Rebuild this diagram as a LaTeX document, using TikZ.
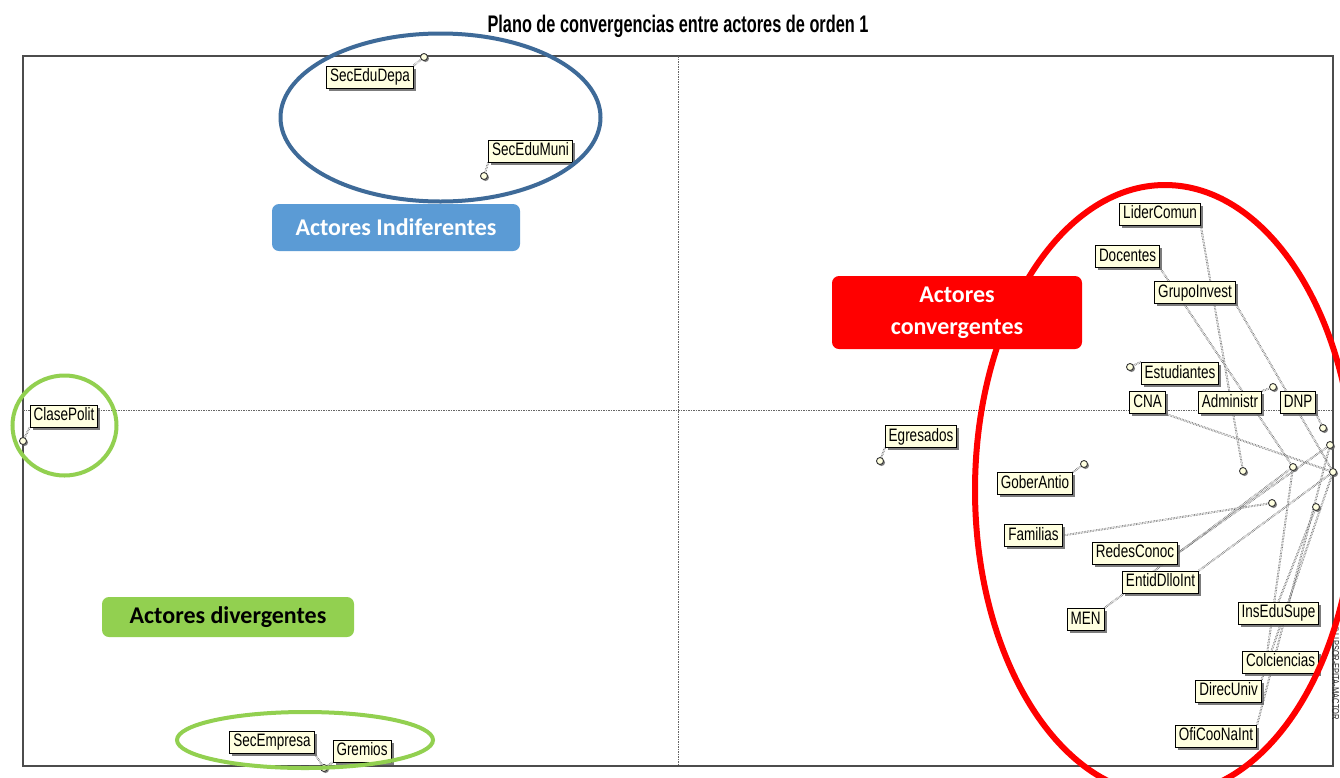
\documentclass[tikz,border=0pt]{standalone}
\usepackage{fontspec}
\setmainfont{Liberation Sans}
\newfontfamily\lblfont[FakeStretch=0.75]{Liberation Sans}
\newfontfamily\ttlfont[FakeStretch=0.68]{Liberation Sans}
\newfontfamily\calfont{Carlito}
\usetikzlibrary{shadows}
\pgfdeclarelayer{bg}
\pgfsetlayers{bg,main}
\definecolor{lblcol}{HTML}{FFFFE0}
\definecolor{bluering}{HTML}{3E6A98}
\definecolor{bluebox}{HTML}{5B9BD5}
\definecolor{greenc}{HTML}{92D050}
\definecolor{redc}{HTML}{FF0000}
\tikzset{
  lbl/.style={draw=black, line width=0.9pt, fill=lblcol,
    font=\lblfont\fontsize{18}{20}\selectfont, inner xsep=3.5pt, inner ysep=1pt,
    minimum height=22pt, text height=13pt, text depth=3.5pt,
    drop shadow={shadow xshift=2.5pt, shadow yshift=-2.5pt, fill=black!60, opacity=0.85}},
  pt/.style={circle, draw=black!80, fill=lblcol, line width=0.9pt, minimum size=7pt,
    inner sep=0pt, drop shadow={shadow xshift=1.5pt, shadow yshift=-1.5pt, fill=black!60, opacity=0.85}},
  conn/.style={draw=black!75, line width=0.55pt, double=white, double distance=0.8pt, densely dotted},
  axisln/.style={draw=black!60, line width=0.6pt, dash pattern=on 1.5pt off 1pt},
  callout/.style={rounded corners=7pt, font=\calfont\bfseries\fontsize{24}{32}\selectfont,
    align=center, inner sep=0pt},
  ring/.style={line width=4pt}
}
\begin{document}
\begin{tikzpicture}[x=1pt,y=-1pt]
\useasboundingbox (0,0) rectangle (1340,777);

% frame and axes
\begin{pgfonlayer}{bg}
\fill[white] (0,0) rectangle (1340,777);
\draw[black!70, line width=1.3pt] (23,56) rectangle (1333,766);
\draw[axisln] (678,56) -- (678,766);
\draw[axisln] (23,410) -- (1333,410);
\end{pgfonlayer}

% title
\node[font=\ttlfont\bfseries\fontsize{24}{26}\selectfont] (title) at (678,26) {Plano de convergencias entre actores de orden 1};

% points
\node[pt] (dA) at (424,57) {};
\node[pt] (dB) at (484,176) {};
\node[pt] (dC) at (23,441) {};
\node[pt] (dD) at (324,768) {};
\node[pt] (dE) at (880,461) {};
\node[pt] (dF) at (1084,464) {};
\node[pt] (dG) at (1130,367) {};
\node[pt] (dH) at (1273,387) {};
\node[pt] (dI) at (1323,428) {};
\node[pt] (dJ) at (1330,445) {};
\node[pt] (dK) at (1293,467) {};
\node[pt] (dL) at (1243,471) {};
\node[pt] (dM) at (1333,472) {};
\node[pt] (dN) at (1272,503) {};
\node[pt] (dO) at (1316,507) {};

% labels
\node[lbl] (SecEduDepa) at (370,77) {SecEduDepa};
\node[lbl] (SecEduMuni) at (530.5,151) {SecEduMuni};
\node[lbl] (ClasePolit) at (64,416) {ClasePolit};
\node[lbl] (SecEmpresa) at (272,742) {SecEmpresa};
\node[lbl] (Gremios) at (362,751) {Gremios};
\node[lbl] (Egresados) at (921,436.5) {Egresados};
\node[lbl] (GoberAntio) at (1035,483.5) {GoberAntio};
\node[lbl] (Familias) at (1033.5,535.5) {Familias};
\node[lbl] (LiderComun) at (1160,214) {LiderComun};
\node[lbl] (Docentes) at (1127.5,256.5) {Docentes};
\node[lbl] (GrupoInvest) at (1195,292.5) {GrupoInvest};
\node[lbl] (Estudiantes) at (1180,373.5) {Estudiantes};
\node[lbl] (CNA) at (1147.5,402.5) {CNA};
\node[lbl] (Administr) at (1230,402.5) {Administr};
\node[lbl] (DNP) at (1298,402.5) {DNP};
\node[lbl] (RedesConoc) at (1135,553) {RedesConoc};
\node[lbl] (EntidDlloInt) at (1160.5,582) {EntidDlloInt};
\node[lbl] (MEN) at (1085.5,619.5) {MEN};
\node[lbl] (InsEduSupe) at (1278.5,613) {InsEduSupe};
\node[lbl] (Colciencias) at (1280.5,662) {Colciencias};
\node[lbl] (DirecUniv) at (1228.5,691) {DirecUniv};
\node[lbl] (OfiCooNaInt) at (1216,736) {OfiCooNaInt};

% connectors
\begin{pgfonlayer}{bg}
\draw[conn] (SecEduDepa.north east) -- (dA);
\draw[conn] (SecEduMuni.south west) -- (dB);
\draw[conn] (ClasePolit.south west) -- (dC);
\draw[conn] (SecEmpresa.south east) -- (dD);
\draw[conn] (Gremios.south west) -- (dD);
\draw[conn] (Egresados.south west) -- (dE);
\draw[conn] (GoberAntio.north east) -- (dF);
\draw[conn] (Estudiantes.north west) -- (dG);
\draw[conn] (Administr.north east) -- (dH);
\draw[conn] (DNP.south east) -- (dI);
\draw[conn] (CNA.south east) -- (dM);
\draw[conn] (LiderComun.south east) -- (dL);
\draw[conn] (Docentes.south east) -- (dK);
\draw[conn] (GrupoInvest.south east) -- (dM);
\draw[conn] (Familias.east) -- (dN);
\draw[conn] (RedesConoc.east) -- (dJ);
\draw[conn] (MEN.north east) -- (dK);
\draw[conn] (EntidDlloInt.north east) -- (dM);
\draw[conn] (InsEduSupe.north) -- (dO);
\draw[conn] ([xshift=-13pt]Colciencias.north) -- (dK);
\draw[conn] (DirecUniv.north east) -- (dM);
\draw[conn] (OfiCooNaInt.north east) -- (dJ);
\end{pgfonlayer}

% watermark
\node[rotate=-90, anchor=west, font=\lblfont\fontsize{10}{10}\selectfont, text=black!85, inner sep=0pt] (wm) at (1335.5,626) {© LIPSOR-EPITA-MACTOR};

% group rings
\draw[ring, draw=bluering] (440.5,117.5) ellipse [x radius=160pt, y radius=84pt];
\draw[ring, draw=greenc] (64.5,425.5) ellipse [x radius=52pt, y radius=50pt];
\draw[ring, draw=greenc] (305,740) ellipse [x radius=128pt, y radius=28pt];
\draw[line width=6pt, draw=redc] (1165,490) ellipse [x radius=190pt, y radius=305pt];

% callouts
\node[callout, fill=bluebox, text=white, minimum width=248pt, minimum height=47pt] (cInd) at (396,227.5) {Actores Indiferentes};
\node[callout, fill=redc, text=white, minimum width=250pt, minimum height=73pt] (cConv) at (957,312.5) {Actores\\convergentes};
\node[callout, fill=greenc, text=black, minimum width=252pt, minimum height=40pt] (cDiv) at (228,617) {Actores divergentes};
\end{tikzpicture}
\end{document}
